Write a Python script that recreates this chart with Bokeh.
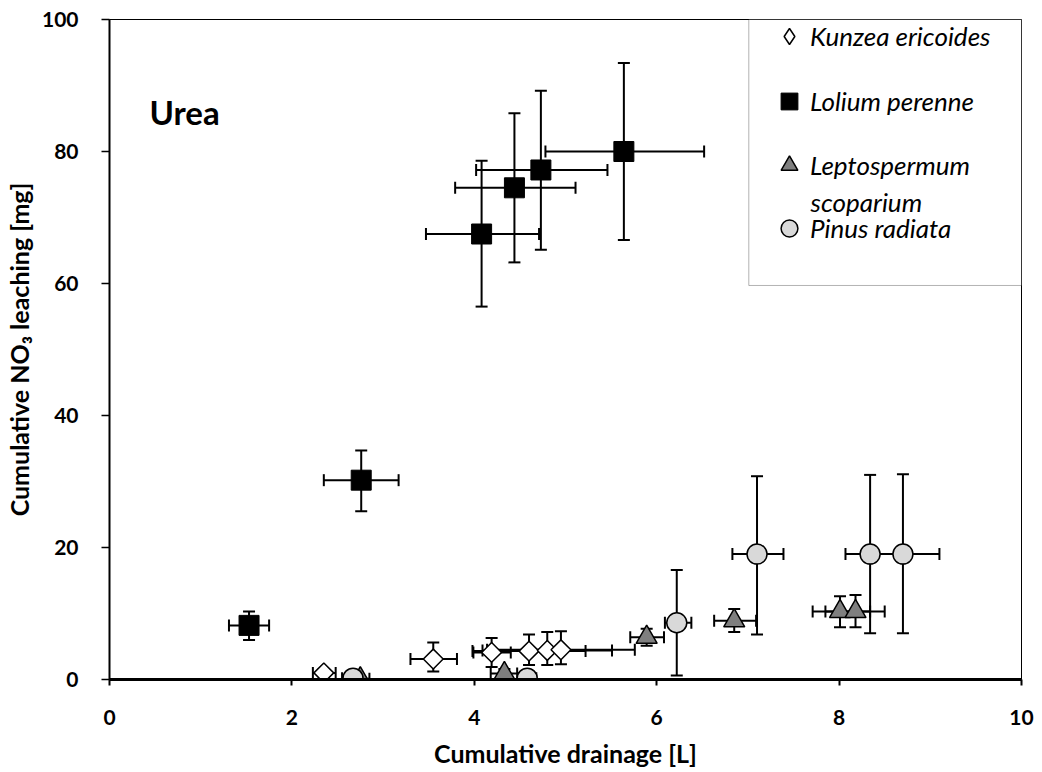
import math
from bokeh.plotting import figure
from bokeh.models import (ColumnDataSource, Range1d, Whisker, TeeHead, Label,
                          BoxAnnotation, Legend, LegendItem, FixedTicker)
from bokeh.embed import file_html
from bokeh.resources import INLINE

# ---------------- data ----------------
kunzea_x    = [2.35, 3.55, 4.19, 4.60, 4.80, 4.95]
kunzea_y    = [1.0, 3.1, 4.1, 4.3, 4.4, 4.5]
kunzea_xlo  = [2.23, 3.30, 3.99, 3.98, 4.09, 4.14]
kunzea_xhi  = [2.48, 3.81, 4.40, 5.22, 5.51, 5.76]
kunzea_ylo  = [0.4, 1.2, 1.9, 2.2, 2.2, 2.3]
kunzea_yhi  = [1.6, 5.6, 6.3, 6.8, 7.2, 7.3]

lolium_x    = [1.53, 2.76, 4.08, 4.44, 4.73, 5.64]
lolium_y    = [8.2, 30.2, 67.5, 74.5, 77.2, 80.0]
lolium_xlo  = [1.31, 2.35, 3.47, 3.79, 4.02, 4.78]
lolium_xhi  = [1.75, 3.17, 4.71, 5.11, 5.46, 6.52]
lolium_ylo  = [6.0, 25.5, 56.5, 63.2, 65.1, 66.6]
lolium_yhi  = [10.3, 34.7, 78.6, 85.8, 89.2, 93.4]

lepto_x     = [2.75, 4.33, 5.89, 6.85, 8.01, 8.18]
lepto_y     = [0.1, 0.9, 6.4, 8.9, 10.3, 10.3]
lepto_xlo   = [2.65, 4.18, 5.71, 6.63, 7.71, 7.85]
lepto_xhi   = [2.85, 4.47, 6.08, 7.09, 8.34, 8.50]
lepto_ylo   = [0.0, 0.3, 5.1, 7.2, 7.9, 7.9]
lepto_yhi   = [0.3, 1.6, 7.7, 10.7, 12.6, 12.8]

pinus_x     = [2.67, 4.58, 6.22, 7.10, 8.34, 8.70]
pinus_y     = [0.2, 0.2, 8.6, 19.0, 19.0, 19.0]
pinus_xlo   = [2.55, 4.49, 6.09, 6.83, 8.07, 8.30]
pinus_xhi   = [2.78, 4.68, 6.38, 7.39, 8.62, 9.10]
pinus_ylo   = [0.0, 0.0, 0.6, 6.8, 7.0, 7.0]
pinus_yhi   = [0.4, 0.4, 16.6, 30.8, 31.0, 31.1]

series_names = ["Kunzea ericoides", "Lolium perenne", "Leptospermum", "Pinus radiata"]
x_ticks = [0, 2, 4, 6, 8, 10]
y_ticks = [0, 20, 40, 60, 80, 100]

FONT = "Lato"

p = figure(width=1038, height=770, x_range=Range1d(0, 10), y_range=Range1d(0, 100),
           output_backend="svg", toolbar_location=None,
           min_border_left=108, min_border_top=19, min_border_right=17, min_border_bottom=89)
p.background_fill_color = "white"
p.border_fill_color = "white"
p.grid.grid_line_color = None
p.outline_line_color = "black"
p.outline_line_width = 1

# axes
p.xaxis.ticker = FixedTicker(ticks=x_ticks)
p.yaxis.ticker = FixedTicker(ticks=y_ticks)
for ax in (p.xaxis, p.yaxis):
    ax.minor_tick_line_color = None
    ax.major_tick_in = 0
    ax.axis_line_color = "black"
    ax.major_tick_line_color = "black"
    ax.major_label_text_font = FONT
    ax.major_label_text_font_size = "21px"
    ax.major_label_text_font_style = "bold"
    ax.major_label_text_color = "black"
    ax.axis_label_text_font = FONT
    ax.axis_label_text_font_size = "25px"
    ax.axis_label_text_font_style = "bold"
    ax.axis_label_text_color = "black"
p.xaxis.axis_line_width = 3
p.xaxis.major_tick_out = 6
p.xaxis.major_tick_line_width = 2
p.xaxis.major_label_standoff = 24
p.xaxis.axis_label = "Cumulative drainage [L]"
p.xaxis.axis_label_standoff = 10
p.yaxis.axis_line_width = 2
p.yaxis.major_tick_out = 8
p.yaxis.major_tick_line_width = 1.5
p.yaxis.major_label_standoff = 23
p.yaxis.axis_label = "Cumulative NO\u2083 leaching [mg]"
p.yaxis.axis_label_standoff = 5

def src(x, y, xlo, xhi, ylo, yhi):
    return ColumnDataSource(dict(x=x, y=y, xlo=xlo, xhi=xhi, ylo=ylo, yhi=yhi))

sources = [
    src(kunzea_x, kunzea_y, kunzea_xlo, kunzea_xhi, kunzea_ylo, kunzea_yhi),
    src(lolium_x, lolium_y, lolium_xlo, lolium_xhi, lolium_ylo, lolium_yhi),
    src(lepto_x, lepto_y, lepto_xlo, lepto_xhi, lepto_ylo, lepto_yhi),
    src(pinus_x, pinus_y, pinus_xlo, pinus_xhi, pinus_ylo, pinus_yhi),
]

# error bars
for s in sources:
    for dim, base, lo, hi in (("height", "x", "ylo", "yhi"), ("width", "y", "xlo", "xhi")):
        w = Whisker(source=s, base=base, lower=lo, upper=hi, dimension=dim,
                    line_color="black", line_width=2, level="underlay",
                    lower_head=TeeHead(size=12, line_width=2, line_color="black"),
                    upper_head=TeeHead(size=12, line_width=2, line_color="black"))
        p.add_layout(w)

# legend glyph for the diamond series (legend glyphs ignore marker angle):
# tiny diamonds at the Kunzea points, hidden under the visible markers
r_k_leg = p.scatter("x", "y", source=sources[0], marker="diamond", size=1,
                    fill_color="white", line_color="black", line_width=1.5)

r_k = p.scatter("x", "y", source=sources[0], marker="square", size=14, angle=math.pi / 4,
                fill_color="white", line_color="black", line_width=1.5)
r_l = p.scatter("x", "y", source=sources[1], marker="square", size=20,
                fill_color="black", line_color="black", line_width=1)
r_t = p.scatter("x", "y", source=sources[2], marker="triangle", size=21,
                fill_color="#7f7f7f", line_color="black", line_width=1.5)
r_p = p.scatter("x", "y", source=sources[3], marker="circle", size=20,
                fill_color="#d9d9d9", line_color="black", line_width=1.5)

# legend box
box = BoxAnnotation(left=7.01, right=10, bottom=59.7, top=100,
                    fill_color="white", fill_alpha=1, line_color="black", line_width=1,
                    level="annotation")
p.add_layout(box)

FL, FB = 108, 681          # frame left / bottom in page px
GLYPH_CX = 788

def add_leg(name, renderer, center_y_page, W):
    vx = (GLYPH_CX - W / 2) - FL
    vy = FB - (center_y_page + W / 2)
    leg = Legend(items=[LegendItem(label=name, renderers=[renderer])],
                 location=(vx, vy), orientation="vertical",
                 glyph_width=W, glyph_height=W, label_height=W,
                 label_standoff=int(round(21 - W / 2)),
                 padding=0, margin=0, spacing=0,
                 border_line_alpha=0, background_fill_alpha=0,
                 label_text_font=FONT, label_text_font_size="26px",
                 label_text_font_style="italic", label_text_color="black")
    p.add_layout(leg, "center")

add_leg(series_names[0], r_k_leg, 38, 40)
add_leg(series_names[1], r_l, 103, 42)
add_leg(series_names[2], r_t, 167, 42)
add_leg(series_names[3], r_p, 230, 42)

p.add_layout(Label(x=GLYPH_CX + 21 - FL, y=FB - 203, x_units="screen", y_units="screen",
                   text="scoparium", text_font=FONT, text_font_size="26px",
                   text_font_style="italic", text_baseline="middle", text_color="black"))

p.add_layout(Label(x=148 - FL, y=FB - 113, x_units="screen", y_units="screen",
                   text="Urea", text_font=FONT, text_font_size="33px",
                   text_font_style="bold", text_baseline="middle", text_color="black"))

open("out.html", "w").write(file_html(p, INLINE))
